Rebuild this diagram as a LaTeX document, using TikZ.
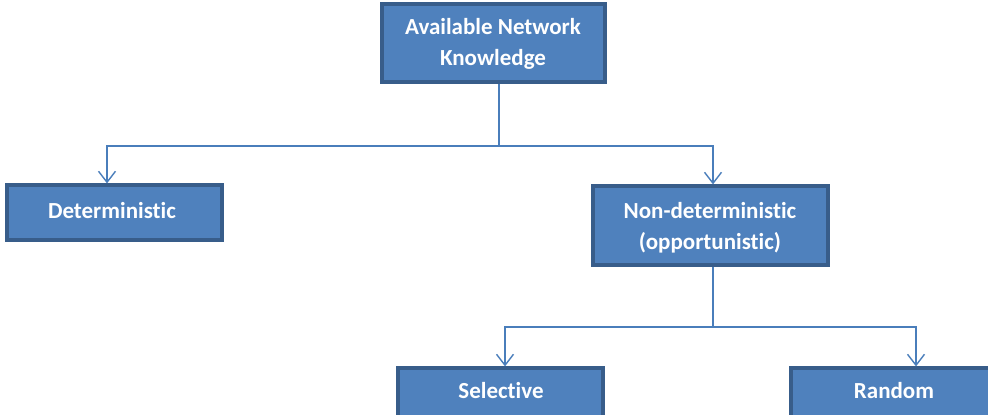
\documentclass[tikz,border=0pt]{standalone}
\usepackage{fontspec}
\setmainfont{Carlito}[Ligatures=NoCommon]
\usetikzlibrary{arrows.meta}
\definecolor{boxfill}{HTML}{4F81BD}
\definecolor{boxline}{HTML}{385D8A}
\definecolor{linkcol}{HTML}{4A7EBB}
\begin{document}
\begin{tikzpicture}[x=1pt,y=1pt,
  boxtext/.style={text=white, font=\fontsize{23}{31}\selectfont\bfseries, align=center},
  box/.style={draw=boxline, line width=3.2pt, fill=boxfill,
    inner sep=0pt, rectangle},
  link/.style={draw=linkcol, line width=1.6pt},
  arr/.style={link, -{Straight Barb[length=11pt,width=17pt,line width=1.4pt]}}]
\useasboundingbox (0,0) rectangle (988,-415);
\clip (0,0) rectangle (988,-415);

% boxes
\node[box, minimum width=223pt, minimum height=78pt] (top) at (493.5,-43) {};
\node[box, minimum width=215pt, minimum height=55pt] (det) at (114.5,-212.5) {};
\node[box, minimum width=235pt, minimum height=79pt] (nondet) at (710.5,-225.5) {};
\node[box, minimum width=205pt, minimum height=60pt] (sel) at (500.5,-398) {};
\node[box, minimum width=210pt, minimum height=60pt] (rnd) at (896,-398) {};

% labels
\node[boxtext] (topt) at (493,-44) {Available Network\\Knowledge};
\node[boxtext] (dett) at (112,-211) {Deterministic};
\node[boxtext] (nondett) at (710,-228) {Non-deterministic\\(opportunistic)};
\node[boxtext] (selt) at (501,-391) {Selective};
\node[boxtext] (rndt) at (894,-391) {Random};

% links from the top level
\coordinate (j1) at (499,-146);
\coordinate (jd) at (107,-146);
\coordinate (jn) at (713,-146);
\draw[link] (top.south -| j1) -- (j1);
\draw[arr] (j1) -- (jd) -- (jd |- det.north);
\draw[arr] (j1) -- (jn) -- (jn |- nondet.north);

% links from the non-deterministic level
\coordinate (j2) at (713,-327);
\coordinate (js) at (505,-327);
\coordinate (jr) at (916,-327);
\draw[link] (nondet.south -| j2) -- (j2);
\draw[arr] (j2) -- (js) -- (js |- sel.north);
\draw[arr] (j2) -- (jr) -- (jr |- rnd.north);
\end{tikzpicture}
\end{document}
